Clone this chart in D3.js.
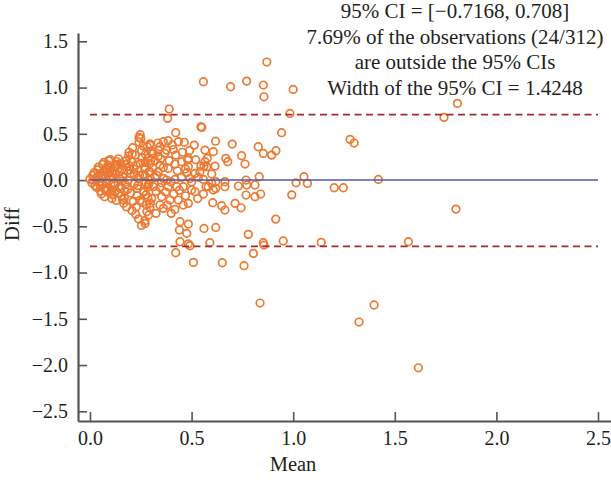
<!DOCTYPE html>
<html>
<head>
<meta charset="utf-8">
<script src="https://cdn.jsdelivr.net/npm/d3@7"></script>
<style>
  body { margin: 0; background: #fff; }
  svg text { font-family: "Liberation Serif", "Times New Roman", serif; fill: #231f20; }
</style>
</head>
<body>
<div id="chart"></div>
<script>
const width = 611;
const height = 493;
const box = {'left':78, 'right':611, 'top':33, 'bottom':421};

const xTicks = [0, 0.5, 1, 1.5, 2, 2.5];
const yTicks = [-2.5, -2, -1.5, -1, -0.5, 0, 0.5, 1, 1.5];
const xDomain = [-0.059, 2.564];
const yDomain = [-2.605, 1.59];
const meanDiff = 0;
const ciLimits = [-0.7168, 0.708];
const lineSpan = [0, 2.5];
const noteLines = ['95% CI = [\u22120.7168, 0.708]',
                   '7.69% of the observations (24/312)',
                   'are outside the 95% CIs',
                   'Width of the 95% CI = 1.4248'];

// [mean, diff] - dense part near zero
const clusterPts = [
  [0.0,0.01],[0.009,-0.03],[0.013,0.05],[0.015,0.0],[0.024,-0.06],[0.021,0.08],[0.03,0.02],[0.037,0.11],
  [0.033,-0.08],[0.04,0.05],[0.045,-0.02],[0.041,0.14],[0.052,-0.12],[0.048,0.07],[0.058,0.02],[0.05,-0.06],
  [0.062,0.17],[0.056,-0.15],[0.07,0.1],[0.066,0.04],[0.074,-0.1],[0.068,0.19],[0.08,-0.03],[0.077,0.13],
  [0.072,-0.18],[0.088,0.07],[0.083,-0.09],[0.092,0.21],[0.085,0.0],[0.098,-0.14],[0.09,0.16],[0.103,-0.05],
  [0.096,0.09],[0.108,-0.2],[0.1,0.22],[0.115,0.03],[0.106,-0.11],[0.12,0.15],[0.112,-0.16],[0.127,0.06],
  [0.118,-0.03],[0.131,0.2],[0.124,-0.12],[0.137,0.12],[0.129,-0.22],[0.144,0.02],[0.134,0.17],[0.149,-0.07],
  [0.14,0.23],[0.155,-0.17],[0.146,0.09],[0.161,-0.01],[0.152,0.18],[0.166,-0.25],[0.158,0.12],[0.172,-0.12],
  [0.163,0.03],[0.178,0.21],[0.169,-0.19],[0.184,0.1],[0.175,-0.05],[0.19,0.26],[0.18,-0.29],[0.195,0.15],
  [0.187,0.0],[0.2,-0.14],[0.192,0.3],[0.207,-0.33],[0.198,0.07],[0.213,-0.23],[0.204,0.2],[0.219,-0.04],
  [0.21,0.35],[0.225,-0.37],[0.215,0.12],[0.231,-0.17],[0.222,0.27],[0.236,0.02],[0.228,-0.29],[0.242,0.41],
  [0.233,-0.09],[0.248,0.18],[0.239,-0.42],[0.254,0.32],[0.245,-0.22],[0.26,0.06],[0.25,0.45],[0.265,-0.13],
  [0.257,0.24],[0.27,-0.44],[0.247,0.49],[0.275,-0.03],[0.262,0.37],[0.28,-0.34],[0.268,0.14],[0.253,-0.49],
  [0.241,0.46],[0.285,-0.19],[0.273,0.28],[0.29,0.09],[0.278,-0.27],[0.295,0.39],[0.283,-0.08],[0.299,0.21],
  [0.288,-0.38],[0.293,0.0],[0.3,0.31],[0.276,-0.16],[0.271,0.12],[0.297,-0.25],[0.282,0.36],[0.289,-0.04],
  [0.287,0.24],
  [0.057,0.05],[0.061,-0.02],[0.086,0.11],[0.079,-0.12],[0.101,0.04],[0.094,0.13],[0.122,-0.06],[0.11,0.08],
  [0.139,-0.14],[0.128,0.15],[0.15,-0.09],[0.176,0.17],[0.16,-0.21],[0.196,0.11],[0.186,-0.1],[0.218,0.06],
  [0.208,0.28],[0.235,-0.06],[0.226,0.16],[0.258,-0.24],[0.244,0.05],[0.272,0.19],[0.264,-0.12]
];

// [mean, diff] - middle band
const midPts = [
  [0.295,0.378],[0.312,0.288],[0.336,0.324],[0.304,0.288],[0.336,0.259],
  [0.295,0.18],[0.32,0.209],[0.344,0.162],[0.295,0.09],[0.336,0.09],[0.361,0.137],[0.385,0.126],
  [0.271,0.043],[0.32,0.029],[0.361,0.018],[0.377,0],[0.418,0.007],[0.451,0.029],
  [0.287,-0.054],[0.312,-0.072],[0.344,-0.079],[0.385,-0.072],[0.427,-0.072],[0.459,-0.072],
  [0.304,-0.198],[0.353,-0.18],[0.344,-0.27],[0.394,-0.216],[0.435,-0.216],[0.459,-0.27],[0.484,-0.252],
  [0.295,-0.295],[0.361,-0.306],[0.418,-0.317],[0.271,-0.468],
  [0.31,0.13],[0.325,-0.12],[0.33,0.05],[0.348,0.23],[0.352,-0.03],[0.368,0.29],[0.372,-0.13],[0.39,0.21],
  [0.398,-0.02],[0.405,0.38],[0.412,-0.15],[0.43,0.1],[0.44,-0.11],[0.455,0.3],[0.47,-0.17],[0.47,0.12],
  [0.49,0.32],[0.5,-0.02],[0.52,0.22],[0.53,-0.2],[0.545,0.15],[0.325,-0.36],[0.38,-0.27],[0.4,-0.36],[0.335,0.4]
];

// [mean, diff] - the rest
const spreadPts = [
  [0.39,0.768],[0.382,0.667],[0.546,0.577],[0.422,0.512],
  [0.361,0.414],[0.385,0.425],[0.435,0.414],[0.464,0.408],[0.513,0.378],
  [0.344,0.36],[0.377,0.324],[0.41,0.33],[0.422,0.27],[0.484,0.234],[0.566,0.198],
  [0.418,0.173],[0.451,0.198],[0.481,0.216],[0.484,0.144],
  [0.476,0.079],[0.517,0.072],[0.541,0.09],[0.574,0.144],[0.599,0.065],
  [0.492,0.018],[0.533,0.029],[0.558,0.007],[0.582,-0.072],[0.599,-0.036],
  [0.5,-0.108],[0.517,-0.126],[0.558,-0.151],[0.607,-0.108],[0.571,-0.07],
  [0.443,-0.45],[0.484,-0.476],[0.44,-0.54],[0.476,-0.576],
  [1.808,0.829],[1.742,0.678],[1.801,-0.314],[1.567,-0.667],[1.616,-2.03],
  [1.0,0.98],[0.984,0.72],[1.28,0.44],[1.30,0.40],[1.053,0.036],[1.014,-0.03],[1.07,-0.036],
  [0.993,-0.16],[1.202,-0.083],[1.247,-0.083],[1.419,0.007],[1.138,-0.674],[1.398,-1.351],[1.324,-1.535],
  [0.87,1.276],[0.692,1.009],[0.771,1.07],[0.853,1.027],[0.856,0.90],[0.943,0.512],
  [0.618,0.42],[0.70,0.389],[0.607,0.306],[0.828,0.36],[0.853,0.288],[0.894,0.27],[0.915,0.317],
  [0.668,0.235],[0.678,0.198],[0.746,0.263],[0.763,0.173],[0.615,0.151],[0.833,0.036],
  [0.619,-0.018],[0.664,-0.018],[0.619,-0.09],[0.664,-0.072],[0.73,-0.065],[0.768,0.0],
  [0.771,-0.054],[0.812,-0.054],[0.768,-0.162],[0.812,-0.18],[0.84,-0.151],
  [0.604,-0.245],[0.648,-0.278],[0.664,-0.324],[0.714,-0.252],[0.743,-0.30],[0.914,-0.422],
  [0.619,-0.512],[0.779,-0.587],[0.59,-0.678],[0.853,-0.678],[0.856,-0.703],[0.951,-0.659],
  [0.804,-0.793],[0.651,-0.894],[0.758,-0.926],[0.837,-1.33],
  [0.558,1.063],[0.55,0.57],[0.566,0.324],[0.577,0.235],[0.561,0.151],
  [0.492,-0.71],[0.484,-0.69],[0.509,-0.89],[0.561,-0.523],[0.443,-0.667],[0.422,-0.786]
];

var svg, x, y;

function setup(){
  svg = d3.select('#chart')
          .append('svg')
          .attr('width', width)
          .attr('height', height);

  x = d3.scaleLinear().domain(xDomain).range([box.left, box.right]);
  y = d3.scaleLinear().domain(yDomain).range([box.bottom, box.top]);
}

function drawAxes(){
  let xAxis = svg.append('g')
     .attr('transform', `translate(0,${box.bottom})`)
     .call(d3.axisBottom(x)
             .tickValues(xTicks)
             .tickFormat(d3.format('.1f'))
             .tickSizeInner(-9)
             .tickSizeOuter(0)
             .tickPadding(10));
  let yAxis = svg.append('g')
     .attr('transform', `translate(${box.left},0)`)
     .call(d3.axisLeft(y)
             .tickValues(yTicks)
             .tickFormat(d3.format('.1f'))
             .tickSizeInner(-9)
             .tickSizeOuter(0)
             .tickPadding(10));

  [xAxis, yAxis].forEach(g => {
    g.select('.domain').attr('stroke', '#555').attr('stroke-width', 2.2);
    g.selectAll('.tick line').attr('stroke', '#555').attr('stroke-width', 1.6);
    g.selectAll('text').attr('font-size', 20).attr('fill', '#231f20');
  });

  svg.append('text')
     .attr('x', 293)
     .attr('y', 471)
     .attr('text-anchor', 'middle')
     .attr('font-size', 20.5)
     .text('Mean');

  svg.append('text')
     .attr('transform', 'translate(19,224) rotate(-90)')
     .attr('text-anchor', 'middle')
     .attr('font-size', 20.5)
     .text('Diff');
}

function drawPoints(){
  let allPts = clusterPts.concat(midPts, spreadPts);
  svg.append('g')
     .selectAll('circle')
     .data(allPts)
     .join('circle')
     .attr('cx', d => x(d[0]))
     .attr('cy', d => y(d[1]))
     .attr('r', 3.8)
     .attr('fill', 'none')
     .attr('stroke', '#ec7a33')
     .attr('stroke-width', 1.7);
}

function drawLines(){
  svg.append('line')
     .attr('x1', x(lineSpan[0])).attr('x2', x(lineSpan[1]))
     .attr('y1', y(meanDiff)).attr('y2', y(meanDiff))
     .attr('stroke', '#4d5aa6')
     .attr('stroke-width', 1.6);

  svg.selectAll('.ci')
     .data(ciLimits)
     .join('line')
     .attr('class', 'ci')
     .attr('x1', x(lineSpan[0])).attr('x2', x(lineSpan[1]))
     .attr('y1', d => y(d)).attr('y2', d => y(d))
     .attr('stroke', '#a52a2e')
     .attr('stroke-width', 1.6)
     .attr('stroke-dasharray', '7,4.5');
}

function drawNote(){
  svg.append('g')
     .selectAll('text')
     .data(noteLines)
     .join('text')
     .attr('x', 455)
     .attr('y', (d,i) => 18 + i*25.5)
     .attr('text-anchor', 'middle')
     .attr('font-size', 21)
     .text(d => d);
}

setup()
drawAxes()
drawPoints()
drawLines()
drawNote()
</script>
</body>
</html>
